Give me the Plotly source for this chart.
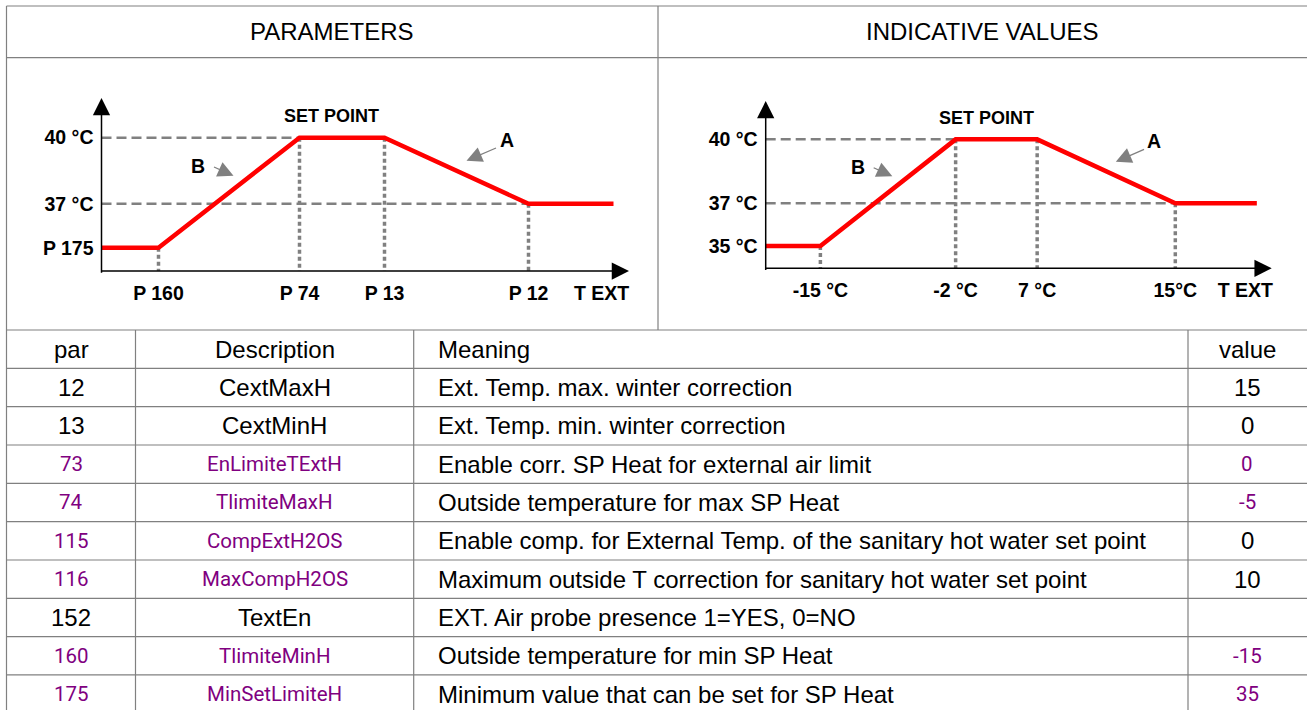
import plotly.graph_objects as go

# ---------------- diagram data ----------------
curve_x = [0, 57, 198, 283, 427, 512]      # schematic T EXT positions of the curve break points
curve_y = [35, 35, 40, 40, 37, 37]         # set point (°C) at each break point
ref_levels = [35, 37, 40]
param_xlabels = ["P 160", "P 74", "P 13", "P 12"]
param_ylabels = ["P 175", "37 °C", "40 °C"]
value_xlabels = ["-15 °C", "-2 °C", "7 °C", "15°C"]
value_ylabels = ["35 °C", "37 °C", "40 °C"]
panel_titles = ["PARAMETERS", "INDICATIVE VALUES"]

# ---------------- table data ----------------
col_headers = ["par", "Description", "Meaning", "value"]
par = ["12", "13", "73", "74", "115", "116", "152", "160", "175"]
description = ["CextMaxH", "CextMinH", "EnLimiteTExtH", "TlimiteMaxH", "CompExtH2OS",
               "MaxCompH2OS", "TextEn", "TlimiteMinH", "MinSetLimiteH"]
meaning = ["Ext. Temp. max. winter correction",
           "Ext. Temp. min. winter correction",
           "Enable corr. SP Heat for external air limit",
           "Outside temperature for max SP Heat",
           "Enable comp. for External Temp. of the sanitary hot water set point",
           "Maximum outside T correction for sanitary hot water set point",
           "EXT. Air probe presence 1=YES, 0=NO",
           "Outside temperature for min SP Heat",
           "Minimum value that can be set for SP Heat"]
value = ["15", "0", "0", "-5", "0", "10", "", "-15", "35"]
name_highlight = [False, False, True, True, True, True, False, True, True]
value_highlight = [False, False, True, True, False, False, False, True, True]

# ---------------- styling / geometry ----------------
W, H = 1307, 710
GRID = "#808080"
RED = "#ff0000"
PURPLE = "#800080"
ARIAL = "Liberation Sans, Arial, sans-serif"
ALT = "Roboto, sans-serif"
X_RANGE = [0, 527.5]
Y_RANGE = [33.95, 41.8]
T_EXT_POS = 500


def fx(x):
    return x / W


def fy(y):
    return 1 - y / H


panels = [
    dict(px=(101.5, 629.0), py=(271.0, 98.0), xl=param_xlabels, yl=param_ylabels),
    dict(px=(765.7, 1271.7), py=(268.3, 101.0), xl=value_xlabels, yl=value_ylabels),
]

fig = go.Figure()
axes_layout = {}
annotations = []
shapes = []
lab_font = dict(family=ARIAL, size=19.5, color="black", weight="bold")
sp_font = dict(family=ARIAL, size=18, color="black", weight="bold")

for i, p in enumerate(panels):
    n = "" if i == 0 else str(i + 1)
    xa, ya = "x" + n, "y" + n
    ymin = Y_RANGE[0]
    # dashed horizontal guides
    for lvl in sorted(set(curve_y), reverse=True):
        j = curve_y.index(lvl)
        if curve_x[j] > 0:
            fig.add_trace(go.Scatter(x=[curve_x[0], curve_x[j]], y=[lvl, lvl], mode="lines",
                                     line=dict(color=GRID, width=2.5, dash="10px,5px"),
                                     xaxis=xa, yaxis=ya, hoverinfo="skip", showlegend=False))
    # dotted vertical guides
    for j in range(1, len(curve_x) - 1):
        fig.add_trace(go.Scatter(x=[curve_x[j], curve_x[j]], y=[curve_y[j], ymin], mode="lines",
                                 line=dict(color=GRID, width=3.5, dash="4px,3px"),
                                 xaxis=xa, yaxis=ya, hoverinfo="skip", showlegend=False))
    # red set point curve
    fig.add_trace(go.Scatter(x=curve_x, y=curve_y, mode="lines",
                             line=dict(color=RED, width=4.5),
                             xaxis=xa, yaxis=ya, hoverinfo="skip", showlegend=False))

    axes_layout["xaxis" + n] = dict(
        domain=[fx(p["px"][0]), fx(p["px"][1])], range=X_RANGE, anchor=ya,
        showgrid=False, zeroline=False, showline=False, ticks="",
        tickmode="array", tickvals=curve_x[1:5] + [T_EXT_POS], ticktext=p["xl"] + ["T EXT"],
        tickfont=lab_font, ticklabelstandoff=8, fixedrange=True)
    axes_layout["yaxis" + n] = dict(
        domain=[fy(p["py"][0]), fy(p["py"][1])], range=Y_RANGE, anchor=xa,
        showgrid=False, zeroline=False, showline=False, ticks="",
        tickmode="array", tickvals=ref_levels, ticktext=p["yl"],
        tickfont=lab_font, ticklabelstandoff=7, fixedrange=True)

    # axis arrows
    annotations.append(dict(x=X_RANGE[1], y=Y_RANGE[0], ax=-2, ay=Y_RANGE[0],
                            xref=xa, yref=ya, axref=xa, ayref=ya, text="", showarrow=True,
                            arrowhead=2, arrowsize=2.3, arrowwidth=1.5, arrowcolor="black"))
    annotations.append(dict(x=0, y=Y_RANGE[1], ax=0, ay=Y_RANGE[0] - 0.15,
                            xref=xa, yref=ya, axref=xa, ayref=ya, text="", showarrow=True,
                            arrowhead=2, arrowsize=2.3, arrowwidth=1.5, arrowcolor="black"))
    # labels
    annotations.append(dict(x=230, y=41.0, xref=xa, yref=ya, text="SET POINT",
                            showarrow=False, font=sp_font))
    annotations.append(dict(x=96, y=38.7, xref=xa, yref=ya, text="B",
                            showarrow=False, font=lab_font))
    annotations.append(dict(x=132, y=38.27, ax=111, ay=38.7, xref=xa, yref=ya, axref=xa, ayref=ya,
                            text="", showarrow=True, arrowhead=2, arrowsize=2.4, arrowwidth=1.3,
                            arrowcolor=GRID))
    annotations.append(dict(x=405, y=39.9, xref=xa, yref=ya, text="A",
                            showarrow=False, font=lab_font))
    annotations.append(dict(x=365, y=38.95, ax=396, ay=39.56, xref=xa, yref=ya, axref=xa, ayref=ya,
                            text="", showarrow=True, arrowhead=2, arrowsize=2.4, arrowwidth=1.3,
                            arrowcolor=GRID))

# ---------------- table frame ----------------
TOP, HEAD_BOT, PANEL_BOT = 6.0, 57.7, 330.0
ROW_H = 38.33
LEFT, MID, RIGHT = 6.5, 658.0, 1306.0
COLS = [LEFT, 135.5, 413.7, 1188.0, RIGHT]
n_rows = len(par) + 1
row_lines = [PANEL_BOT + ROW_H * k for k in range(n_rows + 1)]
BOTTOM = row_lines[-1]


def hline(y, x0=LEFT, x1=RIGHT + 2):
    shapes.append(dict(type="line", xref="paper", yref="paper", x0=fx(x0), x1=fx(x1),
                       y0=fy(y), y1=fy(y), line=dict(color=GRID, width=1.2), layer="below"))


def vline(x, y0, y1):
    shapes.append(dict(type="line", xref="paper", yref="paper", x0=fx(x), x1=fx(x),
                       y0=fy(y0), y1=fy(y1), line=dict(color=GRID, width=1.2), layer="below"))


hline(TOP)
hline(HEAD_BOT)
for y in row_lines:
    hline(y)
vline(LEFT, TOP, BOTTOM)
vline(MID, TOP, PANEL_BOT)
for x in COLS[1:4]:
    vline(x, PANEL_BOT, BOTTOM)

title_font = dict(family=ARIAL, size=24, color="black")
for k, t in enumerate(panel_titles):
    cx = (LEFT + MID) / 2 if k == 0 else (MID + RIGHT) / 2
    annotations.append(dict(x=fx(cx), y=fy((TOP + HEAD_BOT) / 2), xref="paper", yref="paper",
                            text=t, showarrow=False, font=title_font,
                            xanchor="center", yanchor="middle"))

MEANING_X = COLS[2] + 22


def cell(col, row_idx, text, highlight, align="center"):
    if text == "":
        return
    yc = (row_lines[row_idx] + row_lines[row_idx + 1]) / 2
    if align == "center":
        x = (COLS[col] + COLS[col + 1]) / 2
        xanchor = "center"
    else:
        x = MEANING_X
        xanchor = "left"
    font = dict(family=ALT, size=20.5, color=PURPLE) if highlight else dict(family=ARIAL, size=24, color="black")
    annotations.append(dict(x=fx(x), y=fy(yc), xref="paper", yref="paper", text=text,
                            showarrow=False, font=font, xanchor=xanchor, yanchor="middle"))


for c, h in enumerate(col_headers):
    cell(c, 0, h, False, "left" if c == 2 else "center")
for r in range(len(par)):
    cell(0, r + 1, par[r], name_highlight[r])
    cell(1, r + 1, description[r], name_highlight[r])
    cell(2, r + 1, meaning[r], False, "left")
    cell(3, r + 1, value[r], value_highlight[r])

fig.update_layout(
    width=W, height=H, autosize=False,
    margin=dict(l=0, r=0, t=0, b=0, pad=0),
    template="none",
    paper_bgcolor="white", plot_bgcolor="rgba(0,0,0,0)",
    showlegend=False,
    annotations=annotations, shapes=shapes,
    **axes_layout,
)

fig.write_html("out.html", config={"displayModeBar": False},
               post_script="document.body.style.margin='0';document.body.style.overflow='hidden';")
